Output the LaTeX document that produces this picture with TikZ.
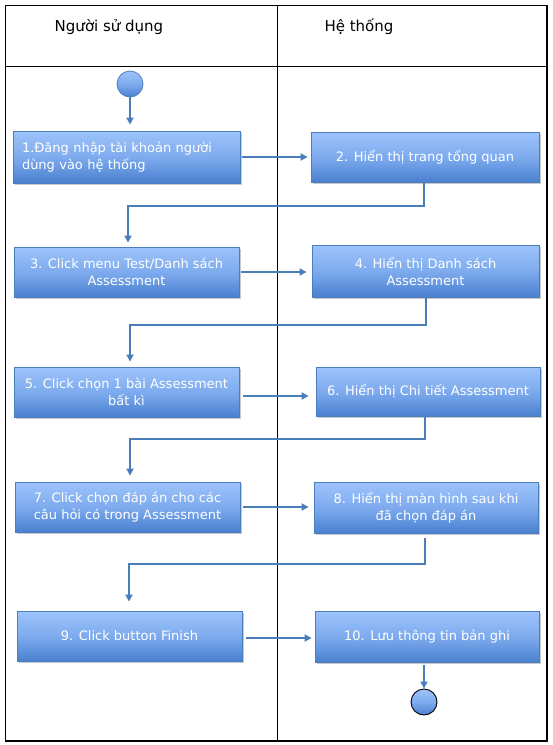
\documentclass[tikz,border=0pt]{standalone}
\usepackage{fontspec}
\setmainfont{DejaVu Sans}
\usetikzlibrary{arrows.meta,shadows}
\definecolor{boxtop}{HTML}{9DC3FB}
\definecolor{boxmid}{HTML}{7EABEE}
\definecolor{boxbot}{HTML}{4A80CF}
\definecolor{boxline}{HTML}{4A7EC0}
\definecolor{flowc}{HTML}{4A7EBB}
\tikzset{
  actbox/.style={draw=boxline, line width=0.8pt, top color=boxtop, bottom color=boxbot, middle color=boxmid,
    text=white, font=\fontsize{13}{17}\selectfont, align=center, inner sep=0pt,
    drop shadow={shadow xshift=1.5pt, shadow yshift=-1.5pt, opacity=0.35, fill=black!60}},
  flow/.style={draw=flowc, line width=2pt, -{Triangle[length=7pt,width=7pt]}},
  startnode/.style={circle, minimum size=26pt, inner sep=0pt, draw=boxline, line width=0.8pt,
    top color=boxtop, bottom color=boxbot, middle color=boxmid},
  endnode/.style={circle, minimum size=26pt, inner sep=0pt, draw=black, line width=0.9pt,
    top color=boxtop, bottom color=boxbot, middle color=boxmid},
  header/.style={font=\fontsize{15}{18}\selectfont, text=black, inner sep=0pt}
}
\begin{document}
\begin{tikzpicture}[x=1pt, y=-1pt]
\useasboundingbox (0,0) rectangle (553,745);
\fill[white] (0,0) rectangle (553,745);
% frame
\draw[line width=1.3pt] (5.5,5.5) rectangle (547,741);
\draw[line width=1.1pt] (5.5,66.5) -- (547,66.5);
\draw[line width=0.9pt] (277,5.5) -- (277,741);
\node[header] (h1) at (109,27) {Người sử dụng};
\node[header] (h2) at (359,27) {Hệ thống};
% start
\node[startnode] (start) at (130,84) {};
% boxes
\node[actbox, text width=209pt, inner xsep=9pt, align=left, minimum height=52pt] (b1) at (126.5,157) {1.Đăng nhập tài khoản người\\dùng vào hệ thống};
\node[actbox, minimum width=228pt, minimum height=50pt] (b2) at (425,157) {2. Hiển thị trang tổng quan};
\node[actbox, minimum width=225pt, minimum height=50pt] (b3) at (126.5,272) {3. Click menu Test/Danh sách\\Assessment};
\node[actbox, minimum width=227pt, minimum height=52pt] (b4) at (425.5,271) {4. Hiển thị Danh sách\\Assessment};
\node[actbox, minimum width=225pt, minimum height=50pt] (b5) at (126.5,392) {5. Click chọn 1 bài Assessment\\bất kì};
\node[actbox, minimum width=224pt, minimum height=49pt] (b6) at (428,391.5) {6. Hiển thị Chi tiết Assessment};
\node[actbox, minimum width=225pt, minimum height=50pt] (b7) at (127.5,507) {7. Click chọn đáp án cho các\\câu hỏi có trong Assessment};
\node[actbox, minimum width=224pt, minimum height=51pt] (b8) at (426,507.5) {8. Hiển thị màn hình sau khi\\đã chọn đáp án};
\node[actbox, minimum width=225pt, minimum height=50pt] (b9) at (129.5,636) {9. Click button Finish};
\node[actbox, minimum width=224pt, minimum height=51pt] (b10) at (427,636.5) {10. Lưu thông tin bản ghi};
% end
\node[endnode] (end) at (424,702) {};
% flows
\draw[flow, shorten >=6pt] (start.south) -- (b1.north -| start.south);
\draw[flow, shorten <=2pt, shorten >=3pt] (b1.east) -- (b2.west |- b1.east);
\draw[flow, shorten <=1.5pt, shorten >=5pt] (b3.east |- 0,272) -- (b4.west |- 0,272);
\draw[flow, shorten <=4pt, shorten >=7pt] (b5.east |- 0,396) -- (b6.west |- 0,396);
\draw[flow, shorten <=3pt, shorten >=5pt] (b7.east |- 0,507) -- (b8.west |- 0,507);
\draw[flow, shorten <=4pt, shorten >=3pt] (b9.east |- 0,638) -- (b10.west |- 0,638);
% down-left connectors
\draw[flow, shorten >=4pt] (b2.south -| 424,0) -- (424,206) -- (128,206) -- (b3.north -| 128,0);
\draw[flow, shorten >=5pt] (b4.south -| 426,0) -- (426,325) -- (130,325) -- (b5.north -| 130,0);
\draw[flow, shorten >=6pt] (b6.south -| 425,0) -- (425,439) -- (130,439) -- (b7.north -| 130,0);
\draw[flow, shorten <=5pt, shorten >=9pt] (b8.south -| 425,0) -- (425,564) -- (129,564) -- (b9.north -| 129,0);
\draw[flow, shorten <=3pt] (b10.south -| end.north) -- (end.north);
\end{tikzpicture}
\end{document}
